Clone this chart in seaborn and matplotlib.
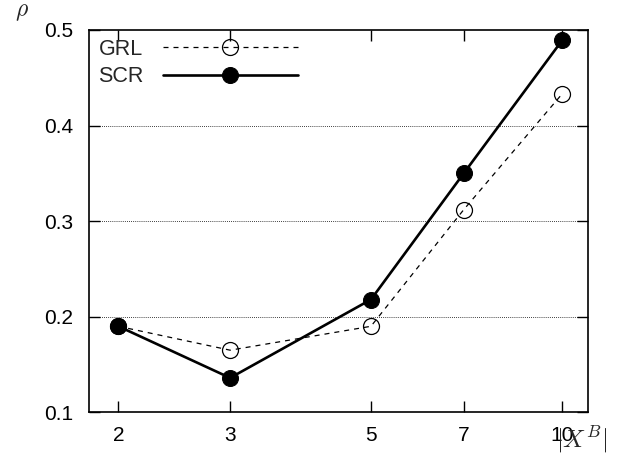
import pandas as pd
import matplotlib
matplotlib.use('Agg')
import matplotlib.pyplot as plt
import matplotlib.ticker as mticker
import seaborn as sns

# values
set_sizes = [2, 3, 5, 7, 10]
grl_rho = [0.19, 0.165, 0.19, 0.312, 0.433]
scr_rho = [0.19, 0.136, 0.218, 0.35, 0.489]
y_ticks = [0.1, 0.2, 0.3, 0.4, 0.5]

sns.set_style('ticks')
plt.rcParams['font.family'] = ['Liberation Sans', 'DejaVu Sans']
plt.rcParams['mathtext.fontset'] = 'cm'

grl = pd.DataFrame({'size': set_sizes, 'rho': grl_rho})
scr = pd.DataFrame({'size': set_sizes, 'rho': scr_rho})

fig = plt.figure(figsize=(6.25, 4.67), dpi=100)
ax = fig.add_axes([0.1429, 0.1171, 0.7984, 0.8187])

sns.lineplot(ax=ax, data=grl, x='size', y='rho', label='GRL',
             color='black', linewidth=0.9, linestyle=(0, (4, 4)),
             marker='o', markersize=11.5, markerfacecolor='none',
             markeredgecolor='black', markeredgewidth=0.9, zorder=3)
sns.lineplot(ax=ax, data=scr, x='size', y='rho', label='SCR',
             color='black', linewidth=1.9,
             marker='o', markersize=11.5, markerfacecolor='black',
             markeredgecolor='black', zorder=4)

ax.set_xscale('log')
ax.set_xlim(1.8, 11.0)
ax.set_ylim(0.1, 0.5)
ax.xaxis.set_major_locator(mticker.FixedLocator(set_sizes))
ax.xaxis.set_major_formatter(mticker.FixedFormatter([str(v) for v in set_sizes]))
ax.xaxis.set_minor_locator(mticker.NullLocator())
ax.set_yticks(y_ticks)
ax.set_yticklabels([f'{v:.1f}' for v in y_ticks])

ax.tick_params(axis='both', direction='in', length=8, width=1,
               top=True, right=True, labelsize=15, colors='black')
ax.tick_params(axis='y', pad=11.5)
ax.tick_params(axis='x', pad=10)
for s in ax.spines.values():
    s.set_linewidth(1.2)
    s.set_color('black')

for v in [0.2, 0.3, 0.4]:
    ax.axhline(v, color='black', linestyle=(0, (1, 1.5)), linewidth=0.6, zorder=1)

ax.set_xlabel('')
ax.set_ylabel('')

leg = ax.legend(loc='upper left', bbox_to_anchor=(0.0, 1.0), frameon=False,
                markerfirst=False, handlelength=6.3, handletextpad=0.9,
                labelspacing=0.3, borderaxespad=0.2, borderpad=0.2,
                fontsize=15.5, numpoints=1)

fig.text(0.024, 0.975, r'$\rho$', fontsize=17, ha='left', va='center')
fig.text(0.93, 0.058, r'$|X^B|$', fontsize=18, ha='center', va='center')

fig.savefig('out.png', dpi=100)
